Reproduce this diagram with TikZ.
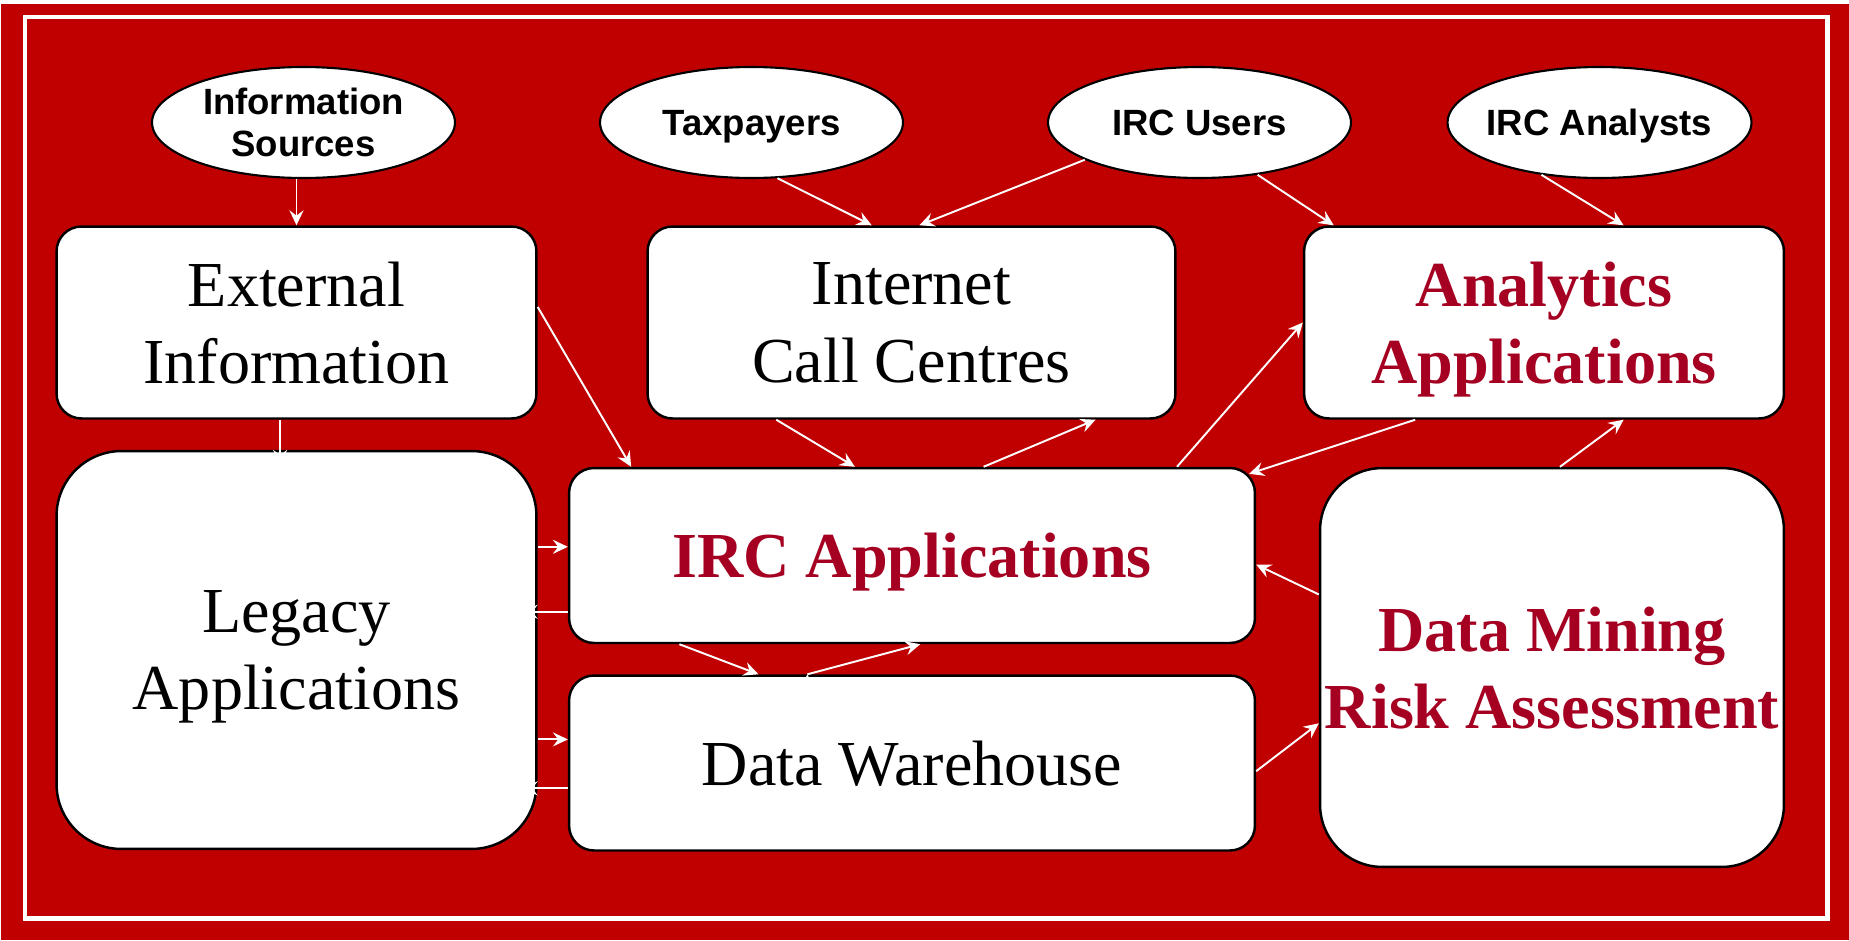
\documentclass[tikz,border=0pt]{standalone}
\usepackage{fontspec}
\setmainfont{Liberation Serif}
\newfontfamily\actorfont{Liberation Sans}
\usepackage{xcolor}
\definecolor{ircred}{RGB}{192,0,0}
\definecolor{appred}{RGB}{165,0,33}
\usepackage{tikz}
\usetikzlibrary{shapes.geometric, arrows.meta, calc}

\begin{document}
\begin{tikzpicture}
[x=0.02cm, y=-0.02cm,
 >={Stealth[length=8.5pt,width=8pt,inset=3pt]},
 box/.style={draw=black, line width=1.4pt, fill=white, rounded corners=0.5cm,
   align=center, inner sep=0pt, text depth=0pt,
   font=\fontsize{36.5}{44}\selectfont},
 bigbox/.style={box, rounded corners=1.3cm},
 hot/.style={text=appred, font=\fontsize{36.5}{44}\selectfont\bfseries},
 actor/.style={ellipse, draw=black, line width=1.2pt, fill=white,
   inner xsep=-3pt, inner ysep=0pt, text depth=0pt, align=center,
   minimum width=6.06cm, minimum height=2.22cm,
   font=\actorfont\bfseries\fontsize{20.8}{23.8}\selectfont},
 con/.style={->, white, line width=1.1pt},
]

\useasboundingbox (0,0) rectangle (1849,940);
\fill[ircred] (1.5,4) rectangle (1849,940);
\draw[white, line width=2.5pt] (25,17) rectangle (1827.5,918.5);

\node[actor] (infosrc)  at (303.5,122.5)  {Information\\Sources};
\node[actor] (taxp)     at (751.5,122.5)  {Taxpayers};
\node[actor] (users)    at (1199.5,122.5) {IRC Users};
\node[actor] (analysts) at (1599.5,122.5) {IRC Analysts};

\node[box, minimum width=9.6cm, minimum height=3.84cm] (ext) at (296.5,322.5) {External\\Information};
\node[box, minimum width=10.56cm, minimum height=3.84cm] (icc) at (911.5,322.5) {Internet\\Call Centres};
\node[box, hot, minimum width=9.6cm, minimum height=3.84cm] (ana) at (1544,322.5) {Analytics\\Applications};
\node[bigbox, minimum width=9.6cm, minimum height=7.96cm] (legacy) at (296.5,650) {Legacy\\Applications};
\node[box, hot, minimum width=13.72cm, minimum height=3.5cm] (ircapp) at (912,555.5) {IRC Applications};
\node[box, minimum width=13.72cm, minimum height=3.5cm] (dw) at (912,763) {Data Warehouse};
\node[bigbox, hot, rounded corners=1.25cm, minimum width=9.28cm, minimum height=7.98cm] (dm) at (1552,667.5) {Data Mining\\Risk Assessment};

\coordinate (l1) at ($(ircapp.north west)!0.451!(ircapp.south west)$);
\coordinate (l2) at ($(ircapp.north west)!0.817!(ircapp.south west)$);
\coordinate (l3) at ($(dw.north west)!0.367!(dw.south west)$);
\coordinate (l4) at ($(dw.north west)!0.643!(dw.south west)$);

\draw[con]
(infosrc.south -| ext.north) edge (ext.north)
($(ext.south west)!0.466!(ext.south east)$) edge ($($(legacy.north west)!0.466!(legacy.north east)$)+(0,15)$)
($(ext.north east)!0.42!(ext.south east)$) edge ($(ircapp.north west)!0.092!(ircapp.north east)$)

(taxp.-65)      edge ($(icc.north west)!0.425!(icc.north east)$)
(users.198)     edge ($(icc.north west)!0.515!(icc.north east)$)
(users.-42)     edge ($(ana.north west)!0.064!(ana.north east)$)
(analysts.-138) edge ($(ana.north west)!0.665!(ana.north east)$)

($(icc.south west)!0.245!(icc.south east)$) edge ($(ircapp.north west)!0.417!(ircapp.north east)$)
($(ircapp.north west)!0.604!(ircapp.north east)$) edge ($(icc.south west)!0.847!(icc.south east)$)
($(ircapp.north west)!0.885!(ircapp.north east)$) edge (ana.west)
($(ana.south west)!0.233!(ana.south east)$) edge ($(ircapp.north east)+(-7,7)$)
($(dm.north west)!0.517!(dm.north east)$) edge ($(ana.south west)!0.665!(ana.south east)$)
($(dm.north west)!0.318!(dm.south west)$) edge ($(ircapp.north east)!0.551!(ircapp.south east)$)
($(dw.north east)!0.546!(dw.south east)$) edge ($(dm.north west)!0.639!(dm.south west)$)

(legacy.east |- l1) edge (l1)
(l2) edge ($(legacy.east |- l2)+(-15,0)$)
(legacy.east |- l3) edge (l3)
(l4) edge ($(legacy.east |- l4)+(-15,0)$)

($(ircapp.south west)!0.162!(ircapp.south east)$) edge ($(dw.north west)!0.277!(dw.north east)$)
($(dw.north west)!0.348!(dw.north east)$) edge ($(ircapp.south west)!0.512!(ircapp.south east)$);
\end{tikzpicture}
\end{document}
